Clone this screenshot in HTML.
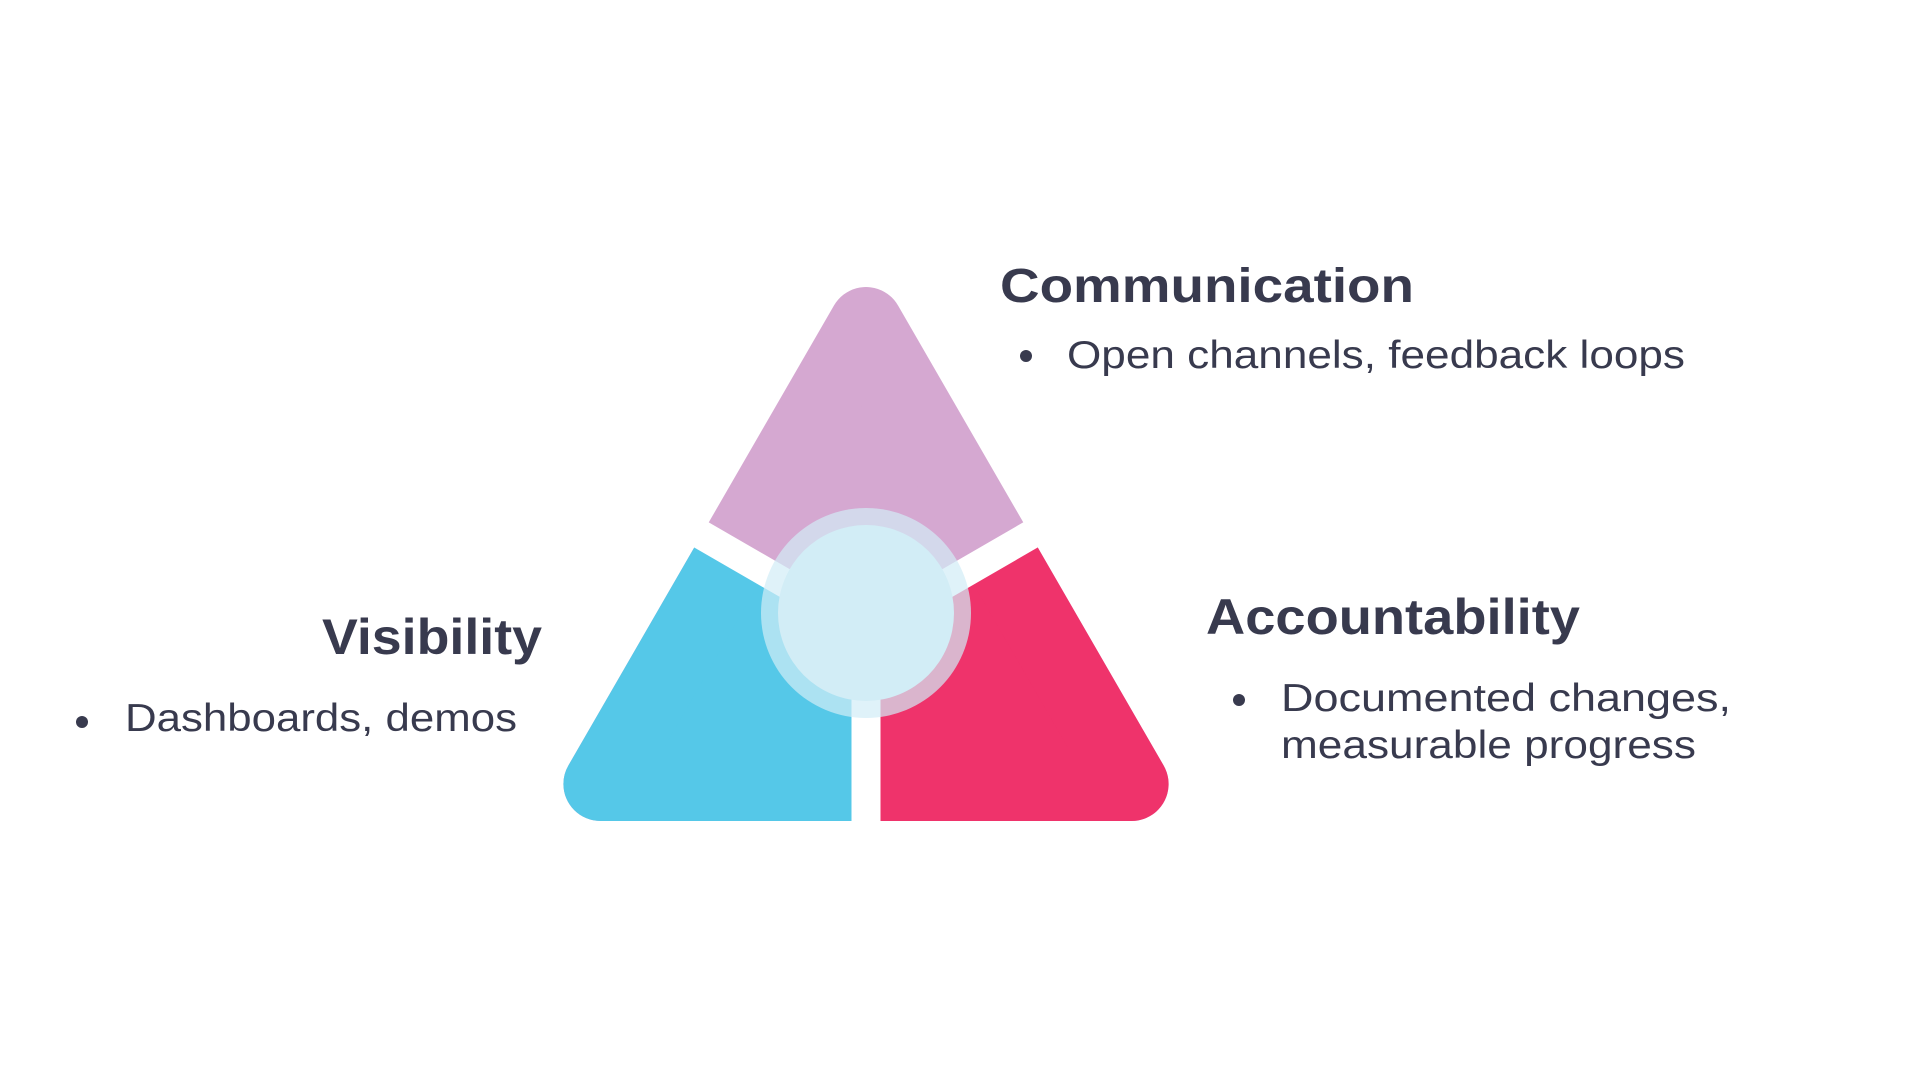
<!DOCTYPE html>
<html><head><meta charset="utf-8"><style>html,body{margin:0;padding:0;background:#fff;}svg{display:block}</style></head>
<body>
<svg width="1920" height="1080" viewBox="0 0 1920 1080" xmlns="http://www.w3.org/2000/svg">
<clipPath id="cb"><path d="M866 630 L500 417 L500 900 L866 900 Z"/></clipPath>
<clipPath id="cr"><path d="M866 630 L1232 417 L1232 900 L866 900 Z"/></clipPath>
<path d="M866 324 L1131.6 784 L600.4 784 Z" fill="#d5a8d1" stroke="#d5a8d1" stroke-width="74" stroke-linejoin="round"/>
<path d="M866 324 L1131.6 784 L600.4 784 Z" fill="#55c8e8" stroke="#55c8e8" stroke-width="74" stroke-linejoin="round" clip-path="url(#cb)"/>
<path d="M866 324 L1131.6 784 L600.4 784 Z" fill="#ef336b" stroke="#ef336b" stroke-width="74" stroke-linejoin="round" clip-path="url(#cr)"/>
<g stroke="#fff" stroke-width="29">
  <line x1="866" y1="630" x2="866" y2="900"/>
  <line x1="866" y1="630" x2="520" y2="430"/>
  <line x1="866" y1="630" x2="1212" y2="430"/>
</g>
<circle cx="866" cy="613" r="105" fill="#d2edf6" opacity="0.7"/>
<circle cx="866" cy="613" r="88" fill="#d2edf6"/>

<g font-family="'Liberation Sans', sans-serif" fill="#383a4e">
  <text x="1000" y="302" font-size="48" font-weight="bold" textLength="414" lengthAdjust="spacingAndGlyphs">Communication</text>
  <circle cx="1026" cy="356" r="6"/>
  <text x="1067" y="368" font-size="39" textLength="618" lengthAdjust="spacingAndGlyphs">Open channels, feedback loops</text>

  <text x="1206" y="634" font-size="50" font-weight="bold" textLength="374" lengthAdjust="spacingAndGlyphs">Accountability</text>
  <circle cx="1239" cy="700" r="6"/>
  <text x="1281" y="711" font-size="39" textLength="450" lengthAdjust="spacingAndGlyphs">Documented changes,</text>
  <text x="1281" y="758" font-size="39" textLength="415" lengthAdjust="spacingAndGlyphs">measurable progress</text>

  <text x="322" y="654" font-size="50" font-weight="bold" textLength="220" lengthAdjust="spacingAndGlyphs">Visibility</text>
  <circle cx="82" cy="722" r="6"/>
  <text x="125" y="731" font-size="39" textLength="392" lengthAdjust="spacingAndGlyphs">Dashboards, demos</text>
</g>
</svg>
</body></html>
